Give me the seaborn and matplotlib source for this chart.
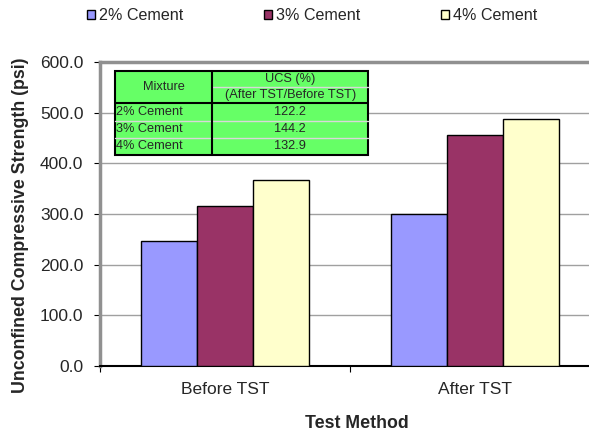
import matplotlib
matplotlib.use('Agg')

import pandas as pd
import matplotlib.pyplot as plt
import seaborn as sns
from matplotlib.patches import Rectangle

# Data
methods = ['Before TST', 'After TST']
mixtures = ['2% Cement', '3% Cement', '4% Cement']
ucs_2pct = [246.0, 300.5]
ucs_3pct = [315.5, 455.0]
ucs_4pct = [367.5, 488.0]
ucs_ratio = ['122.2', '144.2', '132.9']
colors = ['#9999FF', '#993366', '#FFFFCC']

df = pd.DataFrame({
    'method': methods * 3,
    'mixture': [m for m in mixtures for _ in methods],
    'ucs': ucs_2pct + ucs_3pct + ucs_4pct,
})

sns.set_style('white')
plt.rcParams['font.family'] = ['Liberation Sans', 'DejaVu Sans']

W, H = 589, 432
fig = plt.figure(figsize=(W / 100, H / 100), dpi=100)
ax = fig.add_axes([100 / W, (H - 366) / H, 500 / W, (366 - 62) / H])

sns.barplot(data=df, x='method', y='ucs', hue='mixture', order=methods,
            hue_order=mixtures, palette=colors, width=0.67, gap=0,
            edgecolor='black', linewidth=1.0, saturation=1, ax=ax, zorder=3)

ax.set_xlim(-0.5, 1.5)
ax.set_ylim(0, 600)
ax.set_yticks(range(0, 601, 100))
ax.set_yticklabels([f'{v:.1f}' for v in range(0, 601, 100)], fontsize=12.5)
ax.yaxis.grid(True, color='#A0A0A0', linewidth=1.0, zorder=0)
ax.set_axisbelow(True)
ax.tick_params(axis='y', left=True, length=4, width=0.8, color='black', pad=8)
ax.tick_params(axis='x', which='major', bottom=False, labelsize=12.5, pad=8)
ax.set_xticks([-0.5, 0.5, 1.5], minor=True)
ax.tick_params(axis='x', which='minor', bottom=True, length=4, width=0.8, color='black')

for side in ['left', 'top']:
    ax.spines[side].set_color('#909090')
    ax.spines[side].set_linewidth(2.5)
ax.spines['right'].set_visible(False)
ax.spines['bottom'].set_color('black')
ax.spines['bottom'].set_linewidth(1.5)

ax.set_xlabel('Test Method', fontsize=12.8, fontweight='bold')
ax.xaxis.set_label_coords(0.513, -0.162)
ax.set_ylabel('Unconfined Compressive Strength (psi)', fontsize=12.8,
              fontweight='bold')
ax.yaxis.set_label_coords(-0.142, 0.464)

# Legend along the top
handles, labels = ax.get_legend_handles_labels()
ax.legend_.remove()
fig.legend(handles, labels, loc='center', bbox_to_anchor=(312 / W, 1 - 16 / H),
           ncol=3, frameon=False, fontsize=11.6, handlelength=0.5,
           handleheight=0.5, handletextpad=0.25, columnspacing=5.0,
           borderpad=0, borderaxespad=0)

# Inset table (pixel coordinates converted to figure fraction)
def fx(px):
    return px / W


def fy(py):
    return 1 - py / H


x0, x1, x2 = 114.7, 212.3, 368.0
y_top, y_mid, y_head, y_bot = 70.7, 87.0, 103.3, 155.0
row_h = (y_bot - y_head) / len(mixtures)

fig.add_artist(Rectangle((fx(x0), fy(y_bot)), fx(x2) - fx(x0), fy(y_top) - fy(y_bot),
                         transform=fig.transFigure, facecolor='#66FF66',
                         edgecolor='black', linewidth=1.5, zorder=5))
# light separators between rows
fig.add_artist(plt.Line2D([fx(x1), fx(x2)], [fy(y_mid), fy(y_mid)],
                          transform=fig.transFigure, color='#D8D8D8',
                          linewidth=1.0, zorder=6))
for i in range(1, len(mixtures)):
    yy = fy(y_head + row_h * i)
    fig.add_artist(plt.Line2D([fx(x0), fx(x2)], [yy, yy],
                              transform=fig.transFigure, color='#D8D8D8',
                              linewidth=1.0, zorder=6))
fig.add_artist(plt.Line2D([fx(x0), fx(x2)], [fy(y_head), fy(y_head)],
                          transform=fig.transFigure, color='black', linewidth=1.5, zorder=7))
fig.add_artist(plt.Line2D([fx(x1), fx(x1)], [fy(y_top), fy(y_bot)],
                          transform=fig.transFigure, color='black', linewidth=1.5, zorder=7))

fs = 9.2
fig.text(fx((x0 + x1) / 2), fy((y_top + y_head) / 2), 'Mixture', ha='center',
         va='center', fontsize=fs, zorder=8)
fig.text(fx((x1 + x2) / 2), fy((y_top + y_mid) / 2), 'UCS (%)', ha='center',
         va='center', fontsize=fs, zorder=8)
fig.text(fx((x1 + x2) / 2), fy((y_mid + y_head) / 2), '(After TST/Before TST)',
         ha='center', va='center', fontsize=fs, zorder=8)
for i, (mix, r) in enumerate(zip(mixtures, ucs_ratio)):
    yc = fy(y_head + row_h * (i + 0.5))
    fig.text(fx(x0 + 1.5), yc, mix, ha='left', va='center', fontsize=fs, zorder=8)
    fig.text(fx((x1 + x2) / 2), yc, r, ha='center', va='center', fontsize=fs, zorder=8)

fig.savefig('out.png', dpi=100)
plt.close(fig)
